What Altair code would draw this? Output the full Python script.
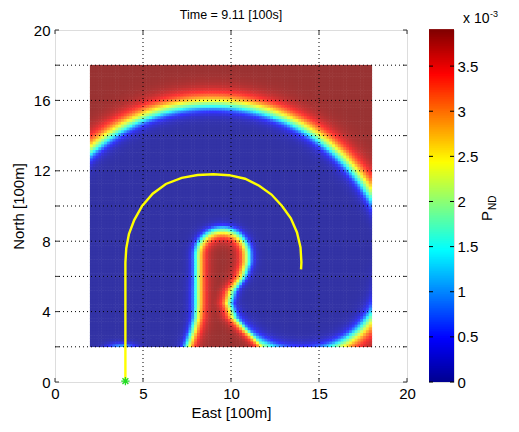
import numpy as np
import pandas as pd
import altair as alt

# ---------------- values ----------------
x_ticks = [0, 5, 10, 15, 20]
y_ticks = [0, 2, 4, 6, 8, 10, 12, 14, 16, 18, 20]
cb_ticks = [0, 0.5, 1, 1.5, 2, 2.5, 3, 3.5]
cb_max = 3.9  # top of colour bar, x10^-3
title_text = ["Time = 9.11 [100s]"]

# searcher track (East, North) in 100 m
path_x = [4.0, 4.0, 4.05, 4.2, 4.5, 4.95, 5.55, 6.3, 7.2, 8.1, 9.0, 9.9, 10.8,
          11.6, 12.3, 12.9, 13.4, 13.75, 13.95, 14.0, 13.98]
path_y = [0.0, 6.8, 7.6, 8.4, 9.2, 10.0, 10.7, 11.25, 11.6, 11.76, 11.8, 11.75,
          11.55, 11.15, 10.65, 10.0, 9.3, 8.5, 7.65, 6.8, 6.4]
start_x = [4.0]
start_y = [0.05]

# probability field: searched region outlines (cyan contours)
field_x = [2.0, 18.0]
field_y = [2.0, 18.0]
outer_center = [8.96, 5.49]
outer_radius = 10.19
outer_cut_y = 6.4
vert_seg = [4.0, 0.0, 6.8]
vert_range = 4.0
end_pt = [14.0, 6.4]
end_range = 4.66
finger_y = [1.2, 2.1, 2.9, 3.65, 4.5, 5.2, 6.0, 6.8, 7.2]
finger_cx = [9.9, 9.68, 9.4, 9.13, 9.0, 9.1, 9.4, 9.53, 9.53]
finger_hw = [2.9, 2.22, 1.65, 1.18, 1.0, 1.1, 1.4, 1.53, 1.53]
glow_xy = [3.8, 1.9]

# ---------------- build the field ----------------
n = 100
step = (field_x[1] - field_x[0]) / n
cx = field_x[0] + step * (np.arange(n) + 0.5)
cy = field_y[0] + step * (np.arange(n) + 0.5)
X, Y = np.meshgrid(cx, cy)


def sig(t):
    return 1.0 / (1.0 + np.exp(-t))


def surv(u, wb, wr):
    t = np.where(u < 0, u / wb, u / wr) - 0.47
    return sig(t)


rho = np.hypot(X - outer_center[0], Y - outer_center[1])
S2 = surv(rho - outer_radius, 0.22, 0.34)
S2 = S2 + (1 - S2) * sig((outer_cut_y - Y) / 0.3)
yy = np.clip(Y, vert_seg[1], vert_seg[2])
S1 = surv(np.hypot(X - vert_seg[0], Y - yy) - vert_range, 0.18, 0.3)
S3 = surv(np.hypot(X - end_pt[0], Y - end_pt[1]) - end_range, 0.22, 0.34)
S_cov = S1 * S2 * S3

fcx = np.interp(Y, finger_y, finger_cx)
fhw = np.interp(Y, finger_y, finger_hw)
uf = fhw - np.abs(X - fcx)
top = Y > finger_y[-1]
uf[top] = (finger_hw[-1] - np.hypot(X - finger_cx[-1], Y - finger_y[-1]))[top]
Sf = surv(uf, 0.16, 0.24)
S = np.maximum(S_cov, Sf)
S = np.maximum(S, 0.35 * np.exp(-((X - glow_xy[0]) / 0.8) ** 2 - ((Y - glow_xy[1]) / 0.3) ** 2))
V = cb_max * S

half = step * 0.6
heat = pd.DataFrame({"cx": X.ravel().round(3), "cy": Y.ravel().round(3), "v": V.ravel().round(4)})

FONT = "Liberation Sans"
FS = 15
W = 352
H = 352

xs = alt.Scale(domain=[0, 20], nice=False, zero=False)
ys = alt.Scale(domain=[0, 20], nice=False, zero=False)

jet_dom = [0, cb_max / 8, 3 * cb_max / 8, 5 * cb_max / 8, 7 * cb_max / 8, cb_max]
jet_faded = ["#3333A5", "#3333FF", "#33FFFF", "#FFFF33", "#FF3333", "#993333"]
jet = ["#00008F", "#0000FF", "#00FFFF", "#FFFF00", "#FF0000", "#800000"]

heatmap = alt.Chart(heat).transform_calculate(
    x0=f"datum.cx - {half}", x1=f"datum.cx + {half}",
    y0=f"datum.cy - {half}", y1=f"datum.cy + {half}",
).mark_rect().encode(
    x=alt.X("x0:Q", scale=xs, axis=alt.Axis(values=x_ticks, grid=False, ticks=False, tickSize=0,
                                             domain=False, labelFlush=False, labelPadding=4,
                                             labelFontSize=FS, labelFont=FONT, labelColor="black",
                                             title="East [100m]", titleFont=FONT, titleFontSize=FS,
                                             titleFontWeight="normal", titlePadding=4, titleColor="black")),
    x2="x1:Q",
    y=alt.Y("y0:Q", scale=ys, axis=alt.Axis(values=y_ticks, grid=False, ticks=False, tickSize=0,
                                             domain=False, labelPadding=5,
                                             labelFontSize=FS, labelFont=FONT, labelColor="black",
                                             title="North [100m]", titleFont=FONT, titleFontSize=FS,
                                             titleFontWeight="normal", titlePadding=7, titleColor="black")),
    y2="y1:Q",
    color=alt.Color("v:Q", scale=alt.Scale(domain=jet_dom, range=jet_faded, interpolate="rgb"), legend=None),
)

gx = pd.DataFrame({"t": x_ticks[1:-1]})
gy = pd.DataFrame({"t": y_ticks[1:-1]})
grid_v = alt.Chart(gx).mark_rule(color="black", strokeDash=[1, 3], strokeWidth=1).encode(
    x=alt.X("t:Q", scale=xs), y=alt.value(0), y2=alt.value(H))
grid_h = alt.Chart(gy).mark_rule(color="black", strokeDash=[1, 3], strokeWidth=1).encode(
    y=alt.Y("t:Q", scale=ys), x=alt.value(0), x2=alt.value(W))

tx = pd.DataFrame({"t": x_ticks})
ty = pd.DataFrame({"t": y_ticks})
tick_b = alt.Chart(tx).mark_rule(color="#333333").encode(x=alt.X("t:Q", scale=xs), y=alt.value(H), y2=alt.value(H - 4))
tick_t = alt.Chart(tx).mark_rule(color="#333333").encode(x=alt.X("t:Q", scale=xs), y=alt.value(0), y2=alt.value(4))
tick_l = alt.Chart(ty).mark_rule(color="#333333").encode(y=alt.Y("t:Q", scale=ys), x=alt.value(0), x2=alt.value(4))
tick_r = alt.Chart(ty).mark_rule(color="#333333").encode(y=alt.Y("t:Q", scale=ys), x=alt.value(W), x2=alt.value(W - 4))

track = pd.DataFrame({"x": path_x, "y": path_y, "i": list(range(len(path_x)))})
line = alt.Chart(track).mark_line(color="#FFFF00", strokeWidth=2.4).encode(
    x=alt.X("x:Q", scale=xs), y=alt.Y("y:Q", scale=ys), order="i:O")

star_shape = "M -1 0 L 1 0 M 0 -1 L 0 1 M -0.7 -0.7 L 0.7 0.7 M -0.7 0.7 L 0.7 -0.7"
start = alt.Chart(pd.DataFrame({"x": start_x, "y": start_y})).mark_point(
    shape=star_shape, color="#22DD22", size=70, strokeWidth=1.3, filled=False, opacity=1).encode(
    x=alt.X("x:Q", scale=xs), y=alt.Y("y:Q", scale=ys))

title = alt.Chart(pd.DataFrame({"s": title_text})).mark_text(
    font=FONT, fontSize=12.5, align="center", baseline="alphabetic", color="black").encode(
    text="s:N", x=alt.value(W / 2), y=alt.value(-11))

main = alt.layer(heatmap, grid_v, grid_h, line, start, tick_b, tick_t, tick_l, tick_r, title).properties(
    width=W, height=H)

# ---------------- colour bar ----------------
cb_n = 200
cb_edges = np.linspace(0, cb_max, cb_n + 1)
cb = pd.DataFrame({"a": cb_edges[:-1], "b": cb_edges[1:] + 0.01, "v": (cb_edges[:-1] + cb_edges[1:]) / 2})
CBW = 25
cbs = alt.Scale(domain=[0, cb_max], nice=False, zero=False)
bar = alt.Chart(cb).mark_rect().encode(
    y=alt.Y("a:Q", scale=cbs, axis=alt.Axis(values=cb_ticks, orient="right", ticks=False, tickSize=0,
                                            domain=False, grid=False, labelPadding=3, format="~g",
                                            labelFont=FONT, labelFontSize=FS, labelColor="black", title=None)),
    y2="b:Q",
    x=alt.value(0), x2=alt.value(CBW),
    color=alt.Color("v:Q", scale=alt.Scale(domain=jet_dom, range=jet, interpolate="rgb"), legend=None),
)
ct = pd.DataFrame({"t": cb_ticks})
cb_tl = alt.Chart(ct).mark_rule(color="black").encode(y=alt.Y("t:Q", scale=cbs), x=alt.value(0), x2=alt.value(4))
cb_tr = alt.Chart(ct).mark_rule(color="black").encode(y=alt.Y("t:Q", scale=cbs), x=alt.value(CBW), x2=alt.value(CBW - 4))

lab = pd.DataFrame({"s": ["x 10"]})
exp_lab = pd.DataFrame({"s": ["-3"]})
t1 = alt.Chart(lab).mark_text(font=FONT, fontSize=14, align="left", baseline="alphabetic", color="black").encode(
    text="s:N", x=alt.value(34), y=alt.value(-7))
t2 = alt.Chart(exp_lab).mark_text(font=FONT, fontSize=9, align="left", baseline="alphabetic", color="black").encode(
    text="s:N", x=alt.value(61), y=alt.value(-13))
pn = alt.Chart(pd.DataFrame({"s": ["P"]})).mark_text(font=FONT, fontSize=FS, angle=270, align="left",
                                                      baseline="alphabetic", color="black").encode(
    text="s:N", x=alt.value(63), y=alt.value(191))
pnd = alt.Chart(pd.DataFrame({"s": ["ND"]})).mark_text(font=FONT, fontSize=10, angle=270, align="left",
                                                        baseline="alphabetic", color="black").encode(
    text="s:N", x=alt.value(67), y=alt.value(180))

colorbar = alt.layer(bar, cb_tl, cb_tr, t1, t2, pn, pnd).properties(width=CBW, height=H)

chart = alt.hconcat(main, colorbar, spacing=12).resolve_scale(
    color="independent", x="independent", y="independent"
).configure_view(stroke="black", strokeWidth=1).configure(
    padding={"left": 2, "top": 0, "right": 5, "bottom": 5}
)

chart.save("out.html", embed_options={"renderer": "svg", "actions": False})
